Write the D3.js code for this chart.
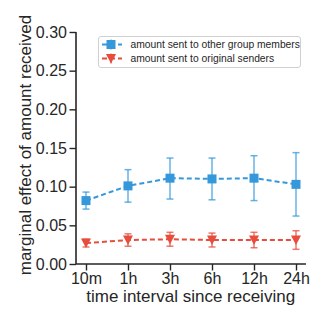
<!DOCTYPE html>
<html>
<head>
<meta charset="utf-8">
<script src="https://cdn.jsdelivr.net/npm/d3@7"></script>
<style>
  body { margin: 0; background: #fff; }
  text { font-family: "Liberation Sans", Arial, sans-serif; fill: #262626; }
</style>
</head>
<body>
<div id="chart"></div>
<script>
// time intervals on the x axis
var intervals = ["10m", "1h", "3h", "6h", "12h", "24h"];
var yTicks = [0, 0.05, 0.10, 0.15, 0.20, 0.25, 0.30];

// sent to other group members (mean, lower, upper)
var otherMean = [0.082, 0.101, 0.111, 0.110, 0.111, 0.103];
var otherLow  = [0.071, 0.080, 0.084, 0.083, 0.082, 0.062];
var otherHigh = [0.093, 0.122, 0.137, 0.137, 0.140, 0.144];

// sent to original senders
var origMean = [0.027, 0.031, 0.032, 0.031, 0.031, 0.031];
var origLow  = [0.022, 0.023, 0.023, 0.022, 0.021, 0.019];
var origHigh = [0.032, 0.039, 0.041, 0.040, 0.041, 0.043];

var series = [
  { name: "amount sent to other group members", color: "#3498db", marker: "square",
    mean: otherMean, low: otherLow, high: otherHigh },
  { name: "amount sent to original senders", color: "#e74c3c", marker: "triangle",
    mean: origMean, low: origLow, high: origHigh }
];

var width = 332, height = 325;
var svg = d3.select("#chart").append("svg")
  .attr("width", width).attr("height", height);

var x = d3.scalePoint().domain(intervals).range([76, 306]).padding(0.238);
var y = d3.scaleLinear().domain([0, 0.30]).range([264, 32]);

// axes
var xAxis = svg.append("g").attr("transform", "translate(0,264)")
  .call(d3.axisBottom(x).tickSize(6.5).tickPadding(2.5));
var yAxis = svg.append("g").attr("transform", "translate(76,0)")
  .call(d3.axisLeft(y).tickValues(yTicks).tickFormat(d3.format(".2f")).tickSize(6.5).tickPadding(2.5));

[xAxis, yAxis].forEach(function (ax) {
  ax.select(".domain").attr("stroke", "#262626").attr("stroke-width", 1.6)
    .attr("d", ax === xAxis ? "M76,0H306" : "M0,264V32");
  ax.selectAll(".tick line").attr("stroke", "#262626").attr("stroke-width", 1.4);
  ax.selectAll(".tick text").style("font-size", "16px").attr("fill", "#262626");
});

// axis titles
svg.append("text")
  .attr("x", 190.7).attr("y", 302)
  .style("text-anchor", "middle").style("font-size", "17px")
  .text("time interval since receiving");
svg.append("text")
  .attr("transform", "translate(31,145) rotate(-90)")
  .style("text-anchor", "middle").style("font-size", "17px")
  .text("marginal effect of amount received");

function drawMarker(g, type, cx, cy, color) {
  if (type === "square") {
    g.append("rect").attr("x", cx - 4.5).attr("y", cy - 4.5)
      .attr("width", 9).attr("height", 9).attr("fill", color);
  } else {
    g.append("path")
      .attr("d", "M" + (cx - 5) + "," + (cy - 4.5) + "L" + (cx + 5) + "," + (cy - 4.5) +
        "L" + cx + "," + (cy + 5) + "Z")
      .attr("fill", color);
  }
}

var line = d3.line()
  .x(function (d, i) { return x(intervals[i]); })
  .y(function (d) { return y(d); });

series.forEach(function (s) {
  var g = svg.append("g");
  g.append("path").datum(s.mean)
    .attr("d", line).attr("fill", "none")
    .attr("stroke", s.color).attr("stroke-width", 2)
    .attr("stroke-dasharray", "5,3");

  // error bars
  s.mean.forEach(function (m, i) {
    var cx = x(intervals[i]);
    var eb = g.append("g").attr("stroke", s.color).attr("stroke-opacity", 0.75)
      .attr("stroke-width", 1.5);
    eb.append("line").attr("x1", cx).attr("x2", cx)
      .attr("y1", y(s.low[i])).attr("y2", y(s.high[i]));
    eb.append("line").attr("x1", cx - 3.5).attr("x2", cx + 3.5)
      .attr("y1", y(s.low[i])).attr("y2", y(s.low[i]));
    eb.append("line").attr("x1", cx - 3.5).attr("x2", cx + 3.5)
      .attr("y1", y(s.high[i])).attr("y2", y(s.high[i]));
    drawMarker(g, s.marker, cx, y(m), s.color);
  });
});

// legend
var legend = svg.append("g");
legend.append("rect")
  .attr("x", 98.5).attr("y", 36.5).attr("width", 202).attr("height", 31)
  .attr("rx", 2.5).attr("fill", "#fff").attr("stroke", "#d0d0d0").attr("stroke-width", 1);

series.forEach(function (s, i) {
  var cy = 44.5 + i * 14;
  var g = legend.append("g");
  g.append("line").attr("x1", 102).attr("x2", 122).attr("y1", cy).attr("y2", cy)
    .attr("stroke", s.color).attr("stroke-width", 2).attr("stroke-dasharray", "5,3");
  g.append("line").attr("x1", 111).attr("x2", 111).attr("y1", cy - 5).attr("y2", cy + 5)
    .attr("stroke", s.color).attr("stroke-opacity", 0.75).attr("stroke-width", 1.5);
  drawMarker(g, s.marker, 111, cy, s.color);
  legend.append("text").attr("x", 130.5).attr("y", cy + 3.7)
    .style("font-size", "10.3px").text(s.name);
});
</script>
</body>
</html>
